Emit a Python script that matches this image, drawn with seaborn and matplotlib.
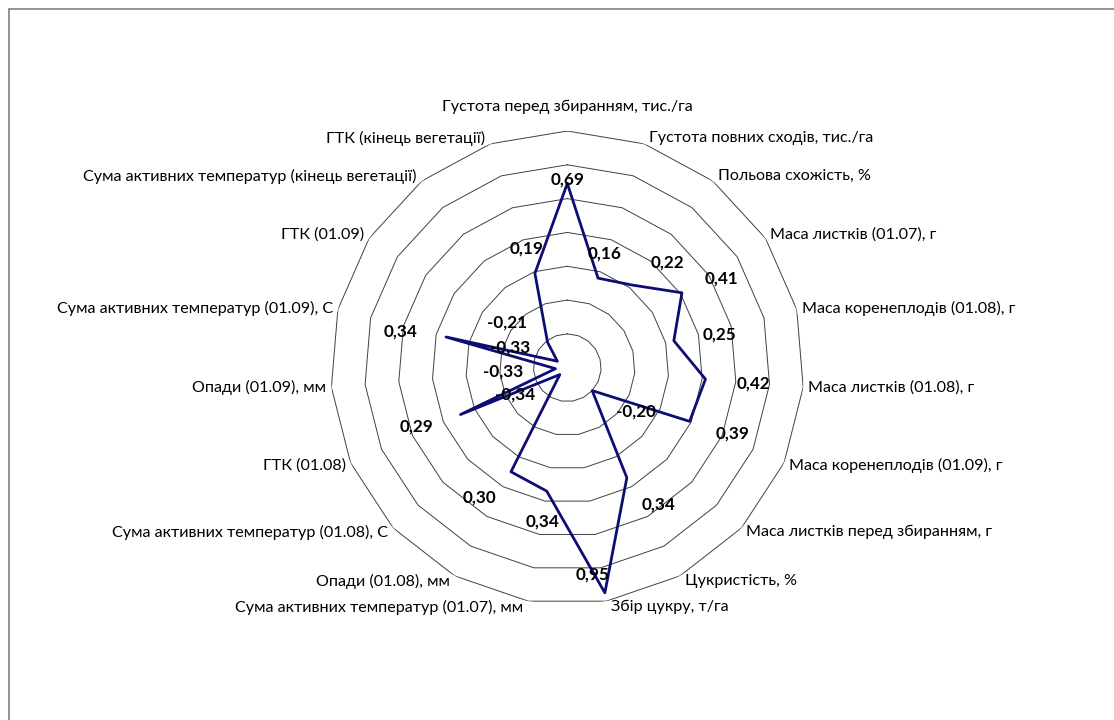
import numpy as np
import pandas as pd
import matplotlib
matplotlib.use("Agg")
import matplotlib.pyplot as plt
import seaborn as sns
from matplotlib.lines import Line2D

# ---------------- data ----------------
categories = [
    "Густота перед збиранням, тис./га",
    "Густота повних сходів, тис./га",
    "Польова схожість, %",
    "Маса листків (01.07), г",
    "Маса коренеплодів (01.08), г",
    "Маса листків (01.08), г",
    "Маса коренеплодів (01.09), г",
    "Маса листків перед збиранням, г",
    "Цукристість, %",
    "Збір цукру, т/га",
    "Сума активних температур (01.07), мм",
    "Опади (01.08), мм",
    "Сума активних температур (01.08), С",
    "ГТК (01.08)",
    "Опади (01.09), мм",
    "Сума активних температур (01.09), С",
    "ГТК (01.09)",
    "Сума активних температур (кінець вегетації)",
    "ГТК (кінець вегетації)",
]
values = [0.69, 0.16, 0.22, 0.41, 0.25, 0.42, 0.39, -0.20, 0.34, 0.95,
          0.34, 0.30, -0.34, 0.29, -0.33, 0.34, -0.33, -0.21, 0.19]
grid_levels = [-0.2, 0.0, 0.2, 0.4, 0.6, 0.8, 1.0]
r_min, r_max = -0.4, 1.0

# ---------------- layout (pixel offsets of data labels, image coords: +x right, +y down) ----------------
label_offsets_px = [(0, -4), (7, -25), (36, -22), (40, -14), (46, -6), (48, 4),
                    (43, 12), (44, 21), (32, 27), (-12, -18), (-4, 30), (-31, 26),
                    (-45, 20), (-44, 12), (-52, 3), (-46, -5), (-47, -14),
                    (-41, -20), (-8, -25)]

W, H = 1114, 720
cx, cy, R = 567.3, 367.7, 236.7

sns.set_theme(style="white")
plt.rcParams['font.family'] = ['Lato', 'DejaVu Sans']

fig = plt.figure(figsize=(W / 100, H / 100), dpi=100)
fig.patch.set_facecolor('white')
ax = fig.add_axes([(cx - R) / W, (H - cy - R) / H, 2 * R / W, 2 * R / H],
                  projection='polar')
ax.set_theta_zero_location('N')
ax.set_theta_direction(-1)
ax.patch.set_alpha(0)

n = len(categories)
theta = np.arange(n) * 2 * np.pi / n
theta_closed = np.append(theta, theta[0])

# polygon grid rings
for lvl in grid_levels:
    ax.plot(theta_closed, [lvl] * (n + 1), color='#404040', lw=0.7, zorder=1)

# data line via seaborn
df = pd.DataFrame({'theta': theta_closed, 'value': values + [values[0]]})
sns.lineplot(data=df, x='theta', y='value', ax=ax, sort=False, estimator=None,
             color='#0d0d73', lw=2.0, zorder=3)

ax.set_ylim(r_min, r_max)
ax.set_xticks([])
ax.set_yticks([])
ax.grid(False)
ax.spines['polar'].set_visible(False)
ax.set_xlabel('')
ax.set_ylabel('')

# data labels
for t, v, (dx, dy) in zip(theta, values, label_offsets_px):
    txt = f"{v:.2f}".replace('.', ',')
    ax.annotate(txt, xy=(t, v), xytext=(dx, -dy), textcoords='offset pixels',
                ha='center', va='center', fontsize=12.3, fontweight='bold',
                color='black', zorder=5, annotation_clip=False)

# category labels
for i, (t, name) in enumerate(zip(theta, categories)):
    s, c = np.sin(t), np.cos(t)
    if s > 0.1:
        ha = 'left'
    elif s < -0.1:
        ha = 'right'
    else:
        ha = 'center'
    dx = 5 * np.sign(s) if abs(s) > 0.1 else 0
    dy = 6 * c
    if i == 0:
        dy = 24
    ax.annotate(name, xy=(t, r_max), xytext=(dx, dy), textcoords='offset pixels',
                ha=ha, va='center', fontsize=11.6, color='black',
                annotation_clip=False)

# chart-area border (top and left edges visible)
bx, by = 8.5 / W, 1 - 8.5 / H
fig.add_artist(Line2D([bx, 1], [by, by], transform=fig.transFigure,
                      color='#808080', lw=1.2))
fig.add_artist(Line2D([bx, bx], [0, by], transform=fig.transFigure,
                      color='#808080', lw=1.2))

fig.savefig('out.png', dpi=100, facecolor='white')
